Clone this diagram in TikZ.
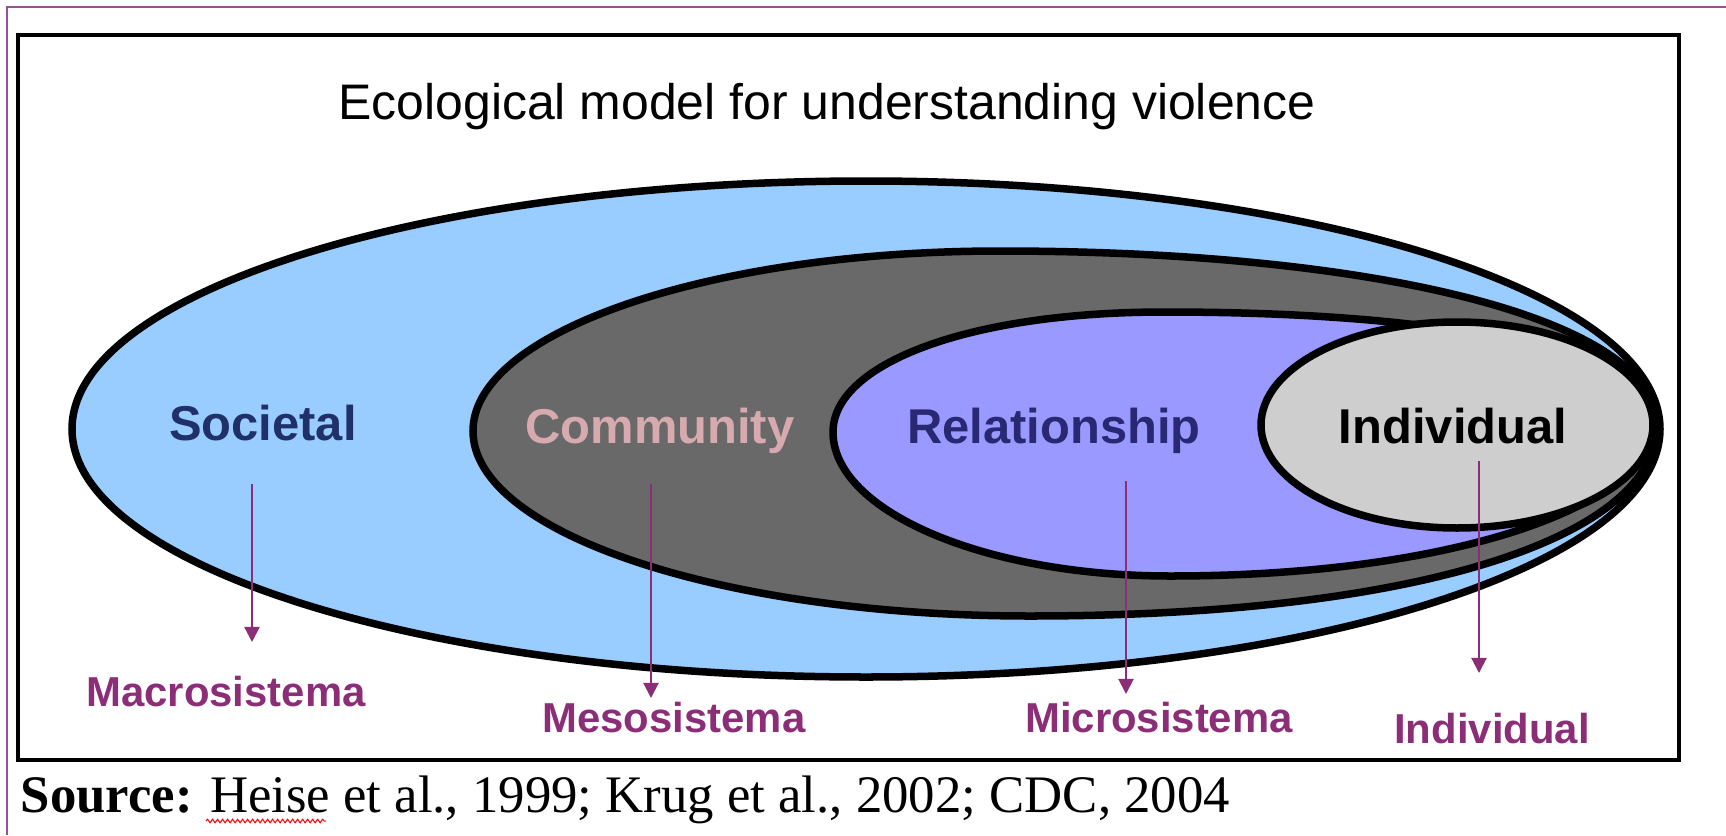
\documentclass[tikz,border=0pt]{standalone}
\usepackage{fontspec}
\setmainfont{Liberation Sans}
\newfontfamily\srcfont{Liberation Serif}
\usetikzlibrary{arrows.meta,decorations.pathmorphing}
\definecolor{skyfill}{RGB}{153,204,255}
\definecolor{commfill}{RGB}{105,105,105}
\definecolor{relfill}{RGB}{153,153,255}
\definecolor{indfill}{RGB}{206,206,206}
\definecolor{navytext}{RGB}{32,48,105}
\definecolor{pinktext}{RGB}{215,170,175}
\definecolor{reltext}{RGB}{40,40,115}
\definecolor{sysplum}{RGB}{140,45,120}
\definecolor{framepurple}{RGB}{155,80,150}

\begin{document}
\begin{tikzpicture}[x=0.01cm, y=0.01cm,
  ring/.style={draw=black, line width=0.075cm},
  lvl/.style={font=\fontsize{13.9}{16}\selectfont\bfseries, anchor=base, inner sep=0pt},
  sys/.style={font=\fontsize{11.9}{14}\selectfont\bfseries, text=sysplum, anchor=base, inner sep=0pt},
  down/.style={draw=sysplum, line width=0.02cm, -{Triangle[length=0.15cm, width=0.15cm]}}]
\useasboundingbox (0,0) rectangle (1726,835);
\draw[framepurple, line width=0.02cm] (7,0) -- (7,828) -- (1726,828);
\draw[line width=0.035cm] (18,75) rectangle (1679,800);

\node[font=\fontsize{14.2}{17}\selectfont, anchor=base, inner sep=0pt] (title) at (827,716) {Ecological model for understanding violence};

\draw[ring, fill=skyfill] (866,406) ellipse [x radius=794, y radius=248];
\draw[ring, fill=commfill] (473,404) .. controls (473,503) and (709,584) .. (1000,584)
  .. controls (1380,584) and (1657,515) .. (1657,410)
  .. controls (1657,298) and (1420,219) .. (1030,219)
  .. controls (722,219) and (473,302) .. cycle;
\draw[ring, fill=relfill] (833,403) .. controls (833,470) and (965,523) .. (1165,523)
  .. controls (1455,523) and (1652,482) .. (1652,410)
  .. controls (1652,332) and (1460,259) .. (1170,259)
  .. controls (984,259) and (833,324) .. cycle;
\draw[ring, fill=indfill] (1457,410) ellipse [x radius=196, y radius=103];

\node[lvl, text=navytext] (societal) at (263,395) {Societal};
\node[lvl, text=pinktext] (community) at (660,392) {Community};
\node[lvl, text=reltext] (relationship) at (1054,392) {Relationship};
\node[lvl, text=black] (individual) at (1453,392) {Individual};

\node[sys] (macro) at (226,129) {Macrosistema};
\node[sys] (meso) at (674,103) {Mesosistema};
\node[sys] (micro) at (1159,103) {Microsistema};
\node[sys] (indiv) at (1492,92) {Individual};

\coordinate (s1) at (252,351);
\coordinate (e1) at (252,193);
\coordinate (s2) at (651,351);
\coordinate (e2) at (651,137);
\coordinate (s3) at (1126,354);
\coordinate (e3) at (1126,141);
\coordinate (s4) at (1479,374);
\coordinate (e4) at (1479,162);
\draw[down] (s1) -- (e1);
\draw[down] (s2) -- (e2);
\draw[down] (s3) -- (e3);
\draw[down] (s4) -- (e4);

\node[font=\srcfont\fontsize{15}{18}\selectfont, anchor=base west, inner sep=0pt] (source) at (20,23) {\textbf{Source:} Heise et al., 1999; Krug et al., 2002; CDC, 2004};
\draw[red, line width=0.01cm, decorate, decoration={snake, amplitude=0.018cm, segment length=0.05cm}] (206,14) -- (326,14);
\end{tikzpicture}
\end{document}
